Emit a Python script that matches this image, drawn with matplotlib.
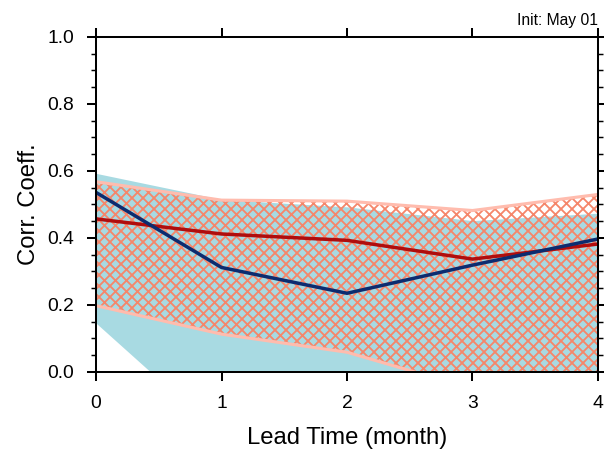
import numpy as np
import matplotlib.pyplot as plt
from matplotlib.ticker import MultipleLocator

plt.rcParams['font.family'] = ['Liberation Sans', 'DejaVu Sans']
plt.rcParams['hatch.linewidth'] = 2.0

# lead time (month)
lead = [0, 1, 2, 3, 4]

# blue model: correlation and spread band
blue_corr = [0.536, 0.312, 0.235, 0.319, 0.397]
blue_hi = [0.593, 0.515, 0.493, 0.452, 0.474]
blue_lo = [0.146, -0.19, -0.25, -0.25, -0.25]

# red model: correlation and spread band
red_corr = [0.457, 0.412, 0.393, 0.337, 0.382]
red_hi = [0.568, 0.513, 0.510, 0.482, 0.530]
red_lo = [0.198, 0.113, 0.059, -0.05, -0.04]

dpi = 66
fig = plt.figure(figsize=(604 / dpi, 449 / dpi), dpi=dpi)
ax = fig.add_axes([0.159, 0.1715, 0.831, 0.7461])

ax.fill_between(lead, blue_lo, blue_hi, color='#a8dae2', linewidth=0, zorder=1)
ax.fill_between(lead, red_lo, red_hi, facecolor='none', edgecolor='#f5866a',
                hatch='xx', linewidth=0, zorder=2)
ax.plot(lead, red_hi, color='#ffbcae', lw=3.4, zorder=3)
ax.plot(lead, red_lo, color='#ffbcae', lw=3.4, zorder=3)
ax.plot(lead, red_corr, color='#b00d0d', lw=3.8, zorder=4)
ax.plot(lead, blue_corr, color='#0c2c70', lw=3.8, zorder=5)

ax.set_xlim(0, 4)
ax.set_ylim(0, 1)
ax.xaxis.set_major_locator(MultipleLocator(1))
ax.yaxis.set_major_locator(MultipleLocator(0.2))
ax.yaxis.set_minor_locator(MultipleLocator(0.05))
ax.set_yticklabels([f'{v:.1f}' for v in ax.get_yticks()])

for s in ax.spines.values():
    s.set_linewidth(2.2)
    s.set_zorder(6)
ax.tick_params(which='both', direction='out', top=True, right=True, width=2.2)
ax.tick_params(which='major', length=10, labelsize=21)
ax.tick_params(axis='y', which='major', pad=14)
ax.tick_params(axis='x', which='major', pad=15)
ax.tick_params(which='minor', length=5, width=1.6)
ax.tick_params(axis='x', which='minor', top=False, bottom=False)

ax.set_xlabel('Lead Time (month)', fontsize=26, labelpad=16)
ax.set_ylabel('Corr. Coeff.', fontsize=26, labelpad=8)
ax.set_title('Init: May 01', loc='right', fontsize=17, pad=13)

fig.savefig('out.png', dpi=dpi)
